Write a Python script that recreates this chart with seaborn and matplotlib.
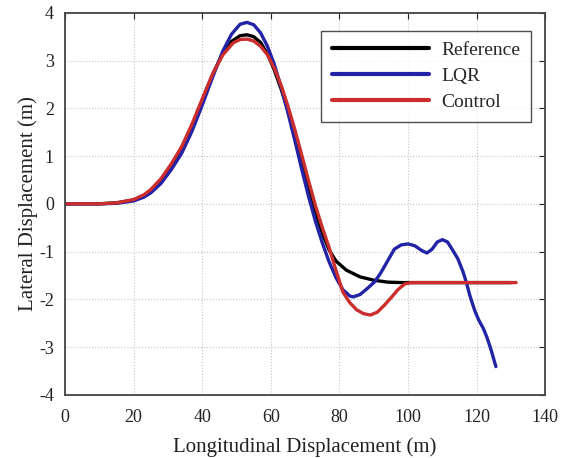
import pandas as pd
import matplotlib
matplotlib.use("Agg")
import matplotlib.pyplot as plt
import seaborn as sns

# values
ref_x = [0, 10, 15, 20, 23, 25, 28, 31, 34, 37, 39, 41, 43.6, 46, 48.5, 51, 53, 55, 57, 59, 61, 63, 65, 67, 69, 71, 73, 75, 77, 79, 82, 86, 90, 94, 98, 130]
ref_y = [0, 0, 0.02, 0.08, 0.17, 0.27, 0.5, 0.8, 1.13, 1.6, 1.97, 2.35, 2.8, 3.15, 3.4, 3.52, 3.54, 3.5, 3.38, 3.14, 2.8, 2.4, 1.95, 1.46, 0.92, 0.36, -0.17, -0.62, -0.97, -1.2, -1.39, -1.53, -1.6, -1.64, -1.65, -1.65]

lqr_x = [0, 10, 15, 20, 23, 25, 28, 31, 34, 37, 40, 43, 46, 48.5, 51, 53, 55, 57, 59, 61, 63, 65, 67, 69, 71, 73, 75, 77, 79, 81, 83, 84, 86, 88, 90.3, 92, 94, 96, 98, 100, 102, 104, 105.5, 107, 108.5, 110, 111.5, 113, 114.5, 116, 117, 118, 119.4, 120.5, 122, 123, 124.2, 125.6]
lqr_y = [0, 0, 0.01, 0.06, 0.14, 0.23, 0.43, 0.72, 1.06, 1.52, 2.07, 2.65, 3.2, 3.55, 3.76, 3.8, 3.75, 3.58, 3.3, 2.92, 2.44, 1.9, 1.32, 0.72, 0.15, -0.37, -0.82, -1.22, -1.55, -1.8, -1.93, -1.95, -1.9, -1.78, -1.63, -1.45, -1.2, -0.95, -0.86, -0.84, -0.88, -0.98, -1.03, -0.95, -0.8, -0.75, -0.8, -0.97, -1.15, -1.42, -1.65, -1.92, -2.23, -2.42, -2.62, -2.8, -3.06, -3.41]

ctrl_x = [0, 10, 15, 20, 23, 25, 28, 31, 34, 37, 40, 43, 46, 49, 51, 53, 55, 57, 59, 61, 63, 65, 67, 69, 71, 73, 75, 77, 79, 81, 83, 85, 87, 89, 91, 93, 95, 97, 99, 101, 131.5]
ctrl_y = [0, 0, 0.02, 0.09, 0.19, 0.3, 0.53, 0.84, 1.2, 1.67, 2.2, 2.72, 3.12, 3.37, 3.44, 3.45, 3.41, 3.3, 3.12, 2.84, 2.48, 2.04, 1.55, 1.02, 0.48, -0.04, -0.5, -0.92, -1.4, -1.85, -2.07, -2.22, -2.3, -2.33, -2.27, -2.13, -1.97, -1.8, -1.68, -1.65, -1.65]

names = ["Reference", "LQR", "Control"]
colors = {"Reference": "#000000", "LQR": "#2323a8", "Control": "#cc2d2d"}

frames = []
for name, xs, ys in zip(names, [ref_x, lqr_x, ctrl_x], [ref_y, lqr_y, ctrl_y]):
    frames.append(pd.DataFrame({"x": xs, "y": ys, "series": name}))
df = pd.concat(frames, ignore_index=True)

sns.set_style("white")
plt.rcParams["font.family"] = ["Liberation Serif", "DejaVu Serif"]
plt.rcParams["axes.unicode_minus"] = False

fig = plt.figure(figsize=(5.61, 4.58), dpi=100)
ax = fig.add_axes([0.116, 0.138, 0.856, 0.834])

sns.lineplot(data=df, x="x", y="y", hue="series", hue_order=names,
             palette=colors, sort=False, linewidth=2.4, ax=ax)

ax.set_xlim(0, 140)
ax.set_ylim(-4, 4)
ax.set_xticks(range(0, 141, 20))
ax.set_yticks(range(-4, 5, 1))
ax.grid(True, linestyle=":", color="#c4c4c4", linewidth=0.8)
ax.tick_params(direction="in", top=True, right=True, length=4, labelsize=13,
               colors="#222222")
ax.tick_params(axis="x", pad=10)
ax.tick_params(axis="y", pad=8)
for s in ax.spines.values():
    s.set_color("#444444")
    s.set_linewidth(1.3)

ax.set_xlabel("Longitudinal Displacement (m)", fontsize=15, color="#222222", labelpad=8)
ax.set_ylabel("Lateral Displacement (m)", fontsize=15, color="#222222", labelpad=1)

leg = ax.legend(loc="upper right", bbox_to_anchor=(0.99, 0.978), handlelength=5.0,
                fontsize=14, frameon=True, fancybox=False, borderpad=0.55,
                labelspacing=0.42, handletextpad=0.6)
leg.get_frame().set_edgecolor("#222222")
leg.get_frame().set_linewidth(1.0)
for line in leg.get_lines():
    line.set_linewidth(3)

fig.savefig("out.png", dpi=100)
